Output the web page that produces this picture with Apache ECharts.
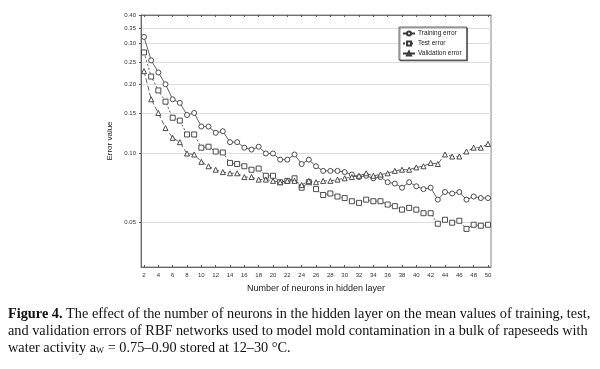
<!DOCTYPE html>
<html>
<head>
<meta charset="utf-8">
<script src="https://cdn.jsdelivr.net/npm/echarts@6/dist/echarts.min.js"></script>
<style>html,body{margin:0;padding:0;background:#fff;}#c{width:600px;height:369px;}</style>
</head>
<body>
<div id="c"></div>
<script>
var neurons = [2,3,4,5,6,7,8,9,10,11,12,13,14,15,16,17,18,19,20,21,22,23,24,25,26,27,28,29,30,31,32,33,34,35,36,37,38,39,40,41,42,43,44,45,46,47,48,49,50];
var trainingError = [0.321,0.254,0.225,0.200,0.172,0.166,0.147,0.150,0.131,0.131,0.123,0.125,0.112,0.112,0.106,0.104,0.107,0.100,0.100,0.094,0.094,0.099,0.090,0.094,0.088,0.084,0.084,0.084,0.083,0.081,0.079,0.080,0.078,0.079,0.075,0.074,0.071,0.075,0.072,0.070,0.071,0.063,0.068,0.067,0.068,0.063,0.065,0.064,0.064];
var testError = [0.275,0.216,0.188,0.168,0.143,0.139,0.121,0.121,0.106,0.107,0.102,0.101,0.091,0.090,0.088,0.085,0.086,0.080,0.080,0.075,0.076,0.078,0.071,0.075,0.070,0.066,0.067,0.065,0.064,0.062,0.061,0.063,0.062,0.062,0.060,0.059,0.057,0.058,0.057,0.055,0.055,0.0495,0.0515,0.050,0.051,0.047,0.049,0.0485,0.049];
var validationError = [0.228,0.172,0.150,0.129,0.117,0.112,0.100,0.099,0.092,0.088,0.085,0.083,0.082,0.082,0.079,0.079,0.077,0.077,0.076,0.075,0.076,0.076,0.073,0.076,0.075,0.076,0.076,0.077,0.078,0.079,0.080,0.082,0.080,0.081,0.082,0.084,0.085,0.085,0.087,0.088,0.091,0.090,0.099,0.097,0.097,0.102,0.106,0.106,0.110];
var xTicks = [2,4,6,8,10,12,14,16,18,20,22,24,26,28,30,32,34,36,38,40,42,44,46,48,50];
var yTicks = [0.05,0.10,0.15,0.20,0.25,0.30,0.35,0.40];
var seriesNames = ['Training error','Test error','Validation error'];

function pairs(vals){ return neurons.map(function(n,i){ return [n, vals[i]]; }); }

var chart = echarts.init(document.getElementById('c'), null, {renderer:'canvas'});
var lineColor = '#3a3a3a';
var axisFont = 'Liberation Sans, Arial, sans-serif';
var capFont = '14.3px "Liberation Serif", serif';
function mk(name, vals, symbol, dash, size){
  return {
    name: name, type: 'line', data: pairs(vals),
    symbol: symbol, symbolSize: size, showSymbol: true,
    lineStyle: {color: lineColor, width: 0.8, type: dash},
    itemStyle: {color: '#ffffff', borderColor: lineColor, borderWidth: 0.9},
    emphasis: {disabled: true}, animation: false, z: 3
  };
}
chart.setOption({
  animation: false,
  backgroundColor: '#ffffff',
  grid: {left: 141, right: 109, top: 15, bottom: 102, show: true, borderColor: '#666', borderWidth: 0.8, backgroundColor: 'transparent'},
  legend: {
    data: seriesNames, orient: 'vertical', left: 399, top: 27,
    itemWidth: 12, itemHeight: 5, itemGap: 3, padding: [3,5,3,3],
    backgroundColor: '#fff', borderColor: '#444', borderWidth: 0.8,
    textStyle: {fontSize: 6.5, fontFamily: axisFont, color: '#222', padding: [0,0,0,-2]},
    shadowColor: 'rgba(0,0,0,0.5)', shadowOffsetX: 1, shadowOffsetY: 1, shadowBlur: 0
  },
  xAxis: [{
    type: 'value', min: 1.58, max: 50.42,
    name: 'Number of neurons in hidden layer', nameLocation: 'middle', nameGap: 17,
    nameTextStyle: {fontSize: 9, fontFamily: axisFont, color: '#222'},
    axisLine: {show: true, lineStyle: {color: '#555', width: 0.8}},
    axisTick: {show: true, inside: true, length: 2, customValues: xTicks, lineStyle: {color: '#555'}},
    axisLabel: {customValues: xTicks, fontSize: 6, fontFamily: axisFont, color: '#333', margin: 5},
    splitLine: {show: false}
  },{
    type: 'value', position: 'top', min: 1.58, max: 50.42,
    axisLine: {show: true, lineStyle: {color: '#555', width: 0.8}},
    axisTick: {show: true, inside: true, length: 2, customValues: xTicks, lineStyle: {color: '#555'}},
    axisLabel: {show: false},
    splitLine: {show: false}
  }],
  yAxis: {
    type: 'log', logBase: 10, min: 0.0321, max: 0.4,
    name: 'Error value', nameLocation: 'middle', nameGap: 24,
    nameTextStyle: {fontSize: 8, fontFamily: axisFont, color: '#222'},
    axisLine: {show: true, lineStyle: {color: '#555', width: 0.8}},
    axisTick: {show: true, inside: false, length: 2, customValues: yTicks, lineStyle: {color: '#555'}},
    axisLabel: {customValues: yTicks, fontSize: 6, fontFamily: axisFont, color: '#333', margin: 5,
      formatter: function(v){ return Number(v).toFixed(2); }},
    splitLine: {show: true, lineStyle: {color: '#dedede', width: 1}},
    minorTick: {show: false}
  },
  series: [
    mk(seriesNames[0], trainingError, 'circle', 'solid', 5),
    mk(seriesNames[1], testError, 'rect', [2,2], 5),
    mk(seriesNames[2], validationError, 'triangle', [5,2.5], 5)
  ],
  graphic: [
    {type: 'text', left: 8, top: 307, style: {
      text: '{b|Figure 4.} The effect of the number of neurons in the hidden layer on the mean values of training, test,',
      font: capFont, fill: '#111',
      rich: {b: {fontWeight: 'bold', fontSize: 14.3, fontFamily: 'Liberation Serif'}}
    }},
    {type: 'text', left: 8, top: 324, style: {
      text: 'and validation errors of RBF networks used to model mold contamination in a bulk of rapeseeds with',
      font: capFont, fill: '#111'
    }},
    {type: 'text', left: 8, top: 341, style: {
      text: 'water activity a{s|W} = 0.75–0.90 stored at 12–30 °C.',
      font: capFont, fill: '#111',
      rich: {s: {fontSize: 8.5, verticalAlign: 'bottom', padding: [4,0,0,0], fontFamily: 'Liberation Serif'}}
    }}
  ]
});
</script>
</body>
</html>
